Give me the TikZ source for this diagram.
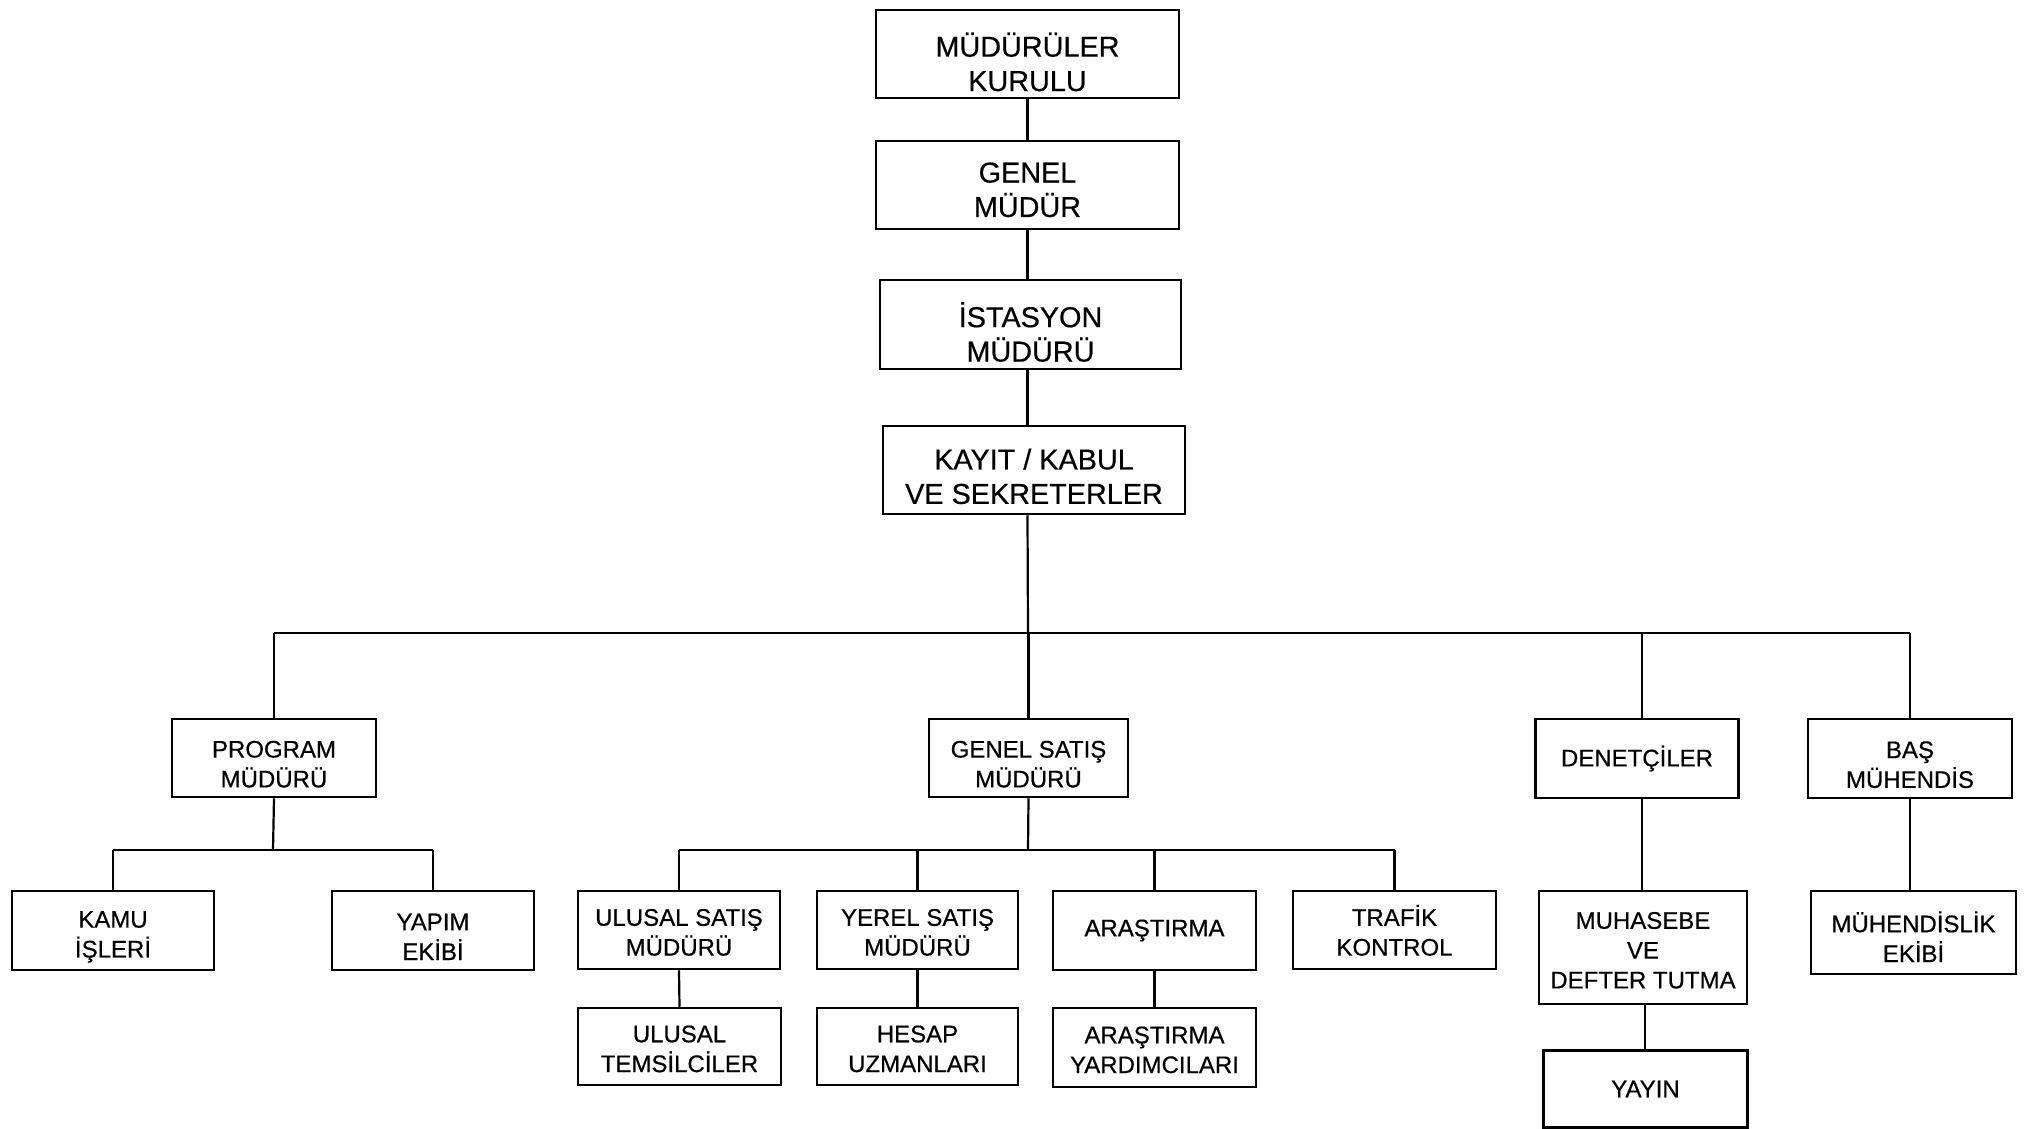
\documentclass[tikz,border=0pt]{standalone}
\usepackage{fontspec}
\setmainfont{Liberation Sans}[FakeBold=0.5]
% invisible struts that set the height of a first text line
\newcommand\liftA{\rule{0pt}{16.8pt}}
\newcommand\liftAA{\rule{0pt}{20pt}}
\newcommand\liftAB{\rule{0pt}{14.9pt}}
\newcommand\liftB{\rule{0pt}{14.6pt}}
\newcommand\liftC{\rule{0pt}{11.2pt}}
\newcommand\liftD{\rule{0pt}{10.8pt}}
\begin{document}
\begin{tikzpicture}[x=0.5pt,y=-0.5pt,
  unit/.style={draw=black,line width=1.25pt,rectangle,align=center,inner sep=0pt,
    font=\fontsize{12}{14.9}\selectfont},
  topunit/.style={unit,font=\fontsize{14.4}{17.2}\selectfont},
  link/.style={line width=1.1pt}]
% page frame
\useasboundingbox (0,0) rectangle (2031,1129);
% upper chain of command
\node[topunit,minimum width=151.5pt,minimum height=44pt] (kurul) at (1027.5,54) {\liftAA MÜDÜRÜLER\\KURULU};
\node[topunit,minimum width=151.5pt,minimum height=44pt] (genel) at (1027.5,185) {\liftAB GENEL\\MÜDÜR};
\node[topunit,minimum width=150.5pt,minimum height=44.5pt] (istasyon) at (1030.5,324.5) {\liftAA İSTASYON\\MÜDÜRÜ};
\node[topunit,minimum width=151pt,minimum height=44pt] (kayit) at (1034,470) {\liftA KAYIT / KABUL\\VE SEKRETERLER};
% department heads
\node[unit,minimum width=102pt,minimum height=39pt] (program) at (274,758) {\liftB PROGRAM\\MÜDÜRÜ};
\node[unit,minimum width=99.5pt,minimum height=39pt] (satis) at (1028.5,758) {\liftB GENEL SATIŞ\\MÜDÜRÜ};
\node[unit,minimum width=101.5pt,minimum height=39.5pt] (denet) at (1637,758.5) {DENETÇİLER};
\node[unit,minimum width=102pt,minimum height=39.5pt] (bas) at (1910,758.5) {\liftB BAŞ\\MÜHENDİS};
% program units
\node[unit,minimum width=101pt,minimum height=39.5pt] (kamu) at (113,930.5) {\liftB KAMU\\İŞLERİ};
\node[unit,minimum width=101pt,minimum height=39.5pt] (yapim) at (433,930.5) {\liftB YAPIM\\EKİBİ};
% sales units
\node[unit,minimum width=101pt,minimum height=39pt] (ulusal) at (679,930) {\liftD ULUSAL SATIŞ\\MÜDÜRÜ};
\node[unit,minimum width=100.5pt,minimum height=39pt] (yerel) at (917.5,930) {\liftD YEREL SATIŞ\\MÜDÜRÜ};
\node[unit,minimum width=101.5pt,minimum height=39.5pt] (arastirma) at (1154.5,930.5) {ARAŞTIRMA};
\node[unit,minimum width=101.5pt,minimum height=39pt] (trafik) at (1394.5,930) {\liftD TRAFİK\\KONTROL};
\node[unit,minimum width=101.5pt,minimum height=38.5pt] (temsil) at (679.5,1046.5) {\liftD ULUSAL\\TEMSİLCİLER};
\node[unit,minimum width=100.5pt,minimum height=38.5pt] (hesap) at (917.5,1046.5) {\liftD HESAP\\UZMANLARI};
\node[unit,minimum width=101.5pt,minimum height=39.5pt] (yardim) at (1154.5,1047.5) {\liftD ARAŞTIRMA\\YARDIMCILARI};
% audit and engineering units
\node[unit,minimum width=104pt,minimum height=56.5pt] (muhasebe) at (1643,947.5) {\liftC MUHASEBE\\VE\\DEFTER TUTMA};
\node[unit,minimum width=102pt,minimum height=38.5pt] (yayin) at (1645.5,1089) {YAYIN};
\node[unit,minimum width=102.5pt,minimum height=41.5pt] (muhendis) at (1913.5,932.5) {\liftB MÜHENDİSLİK\\EKİBİ};
% bus levels
\coordinate (bus) at (1028,633);
\coordinate (pbus) at (273,850);
\coordinate (sbus) at (1028,850);
% vertical trunk
\draw[link] (kurul.south) -- (genel.north);
\draw[link] (genel.south) -- (genel.south |- istasyon.north);
\draw[link] (genel.south |- istasyon.south) -- (genel.south |- kayit.north);
\draw[link] (genel.south |- kayit.south) -- (bus);
% main bus and department drops
\draw[link] (program.north |- bus) -- (bas.north |- bus);
\draw[link] (program.north |- bus) -- (program.north);
\draw[link] (satis.north |- bus) -- (satis.north);
\draw[link] (1642,633) -- (1642,0 |- denet.north);
\draw[link] (bas.north |- bus) -- (bas.north);
% program branch
\draw[link] (program.south) -- (pbus);
\draw[link] (kamu.north |- pbus) -- (yapim.north |- pbus);
\draw[link] (kamu.north |- pbus) -- (kamu.north);
\draw[link] (yapim.north |- pbus) -- (yapim.north);
% sales branch
\draw[link] (satis.south) -- (sbus);
\draw[link] (ulusal.north |- sbus) -- (trafik.north |- sbus);
\draw[link] (ulusal.north |- sbus) -- (ulusal.north);
\draw[link] (yerel.north |- sbus) -- (yerel.north);
\draw[link] (arastirma.north |- sbus) -- (arastirma.north);
\draw[link] (trafik.north |- sbus) -- (trafik.north);
\draw[link] (ulusal.south) -- (temsil.north);
\draw[link] (yerel.south) -- (hesap.north);
\draw[link] (arastirma.south) -- (yardim.north);
% audit and engineering branches
\draw[link] (1642,0 |- denet.south) -- (1642,0 |- muhasebe.north);
\draw[link] (1645,0 |- muhasebe.south) -- (1645,0 |- yayin.north);
\draw[link] (bas.south) -- (bas.south |- muhendis.north);
\end{tikzpicture}
\end{document}
